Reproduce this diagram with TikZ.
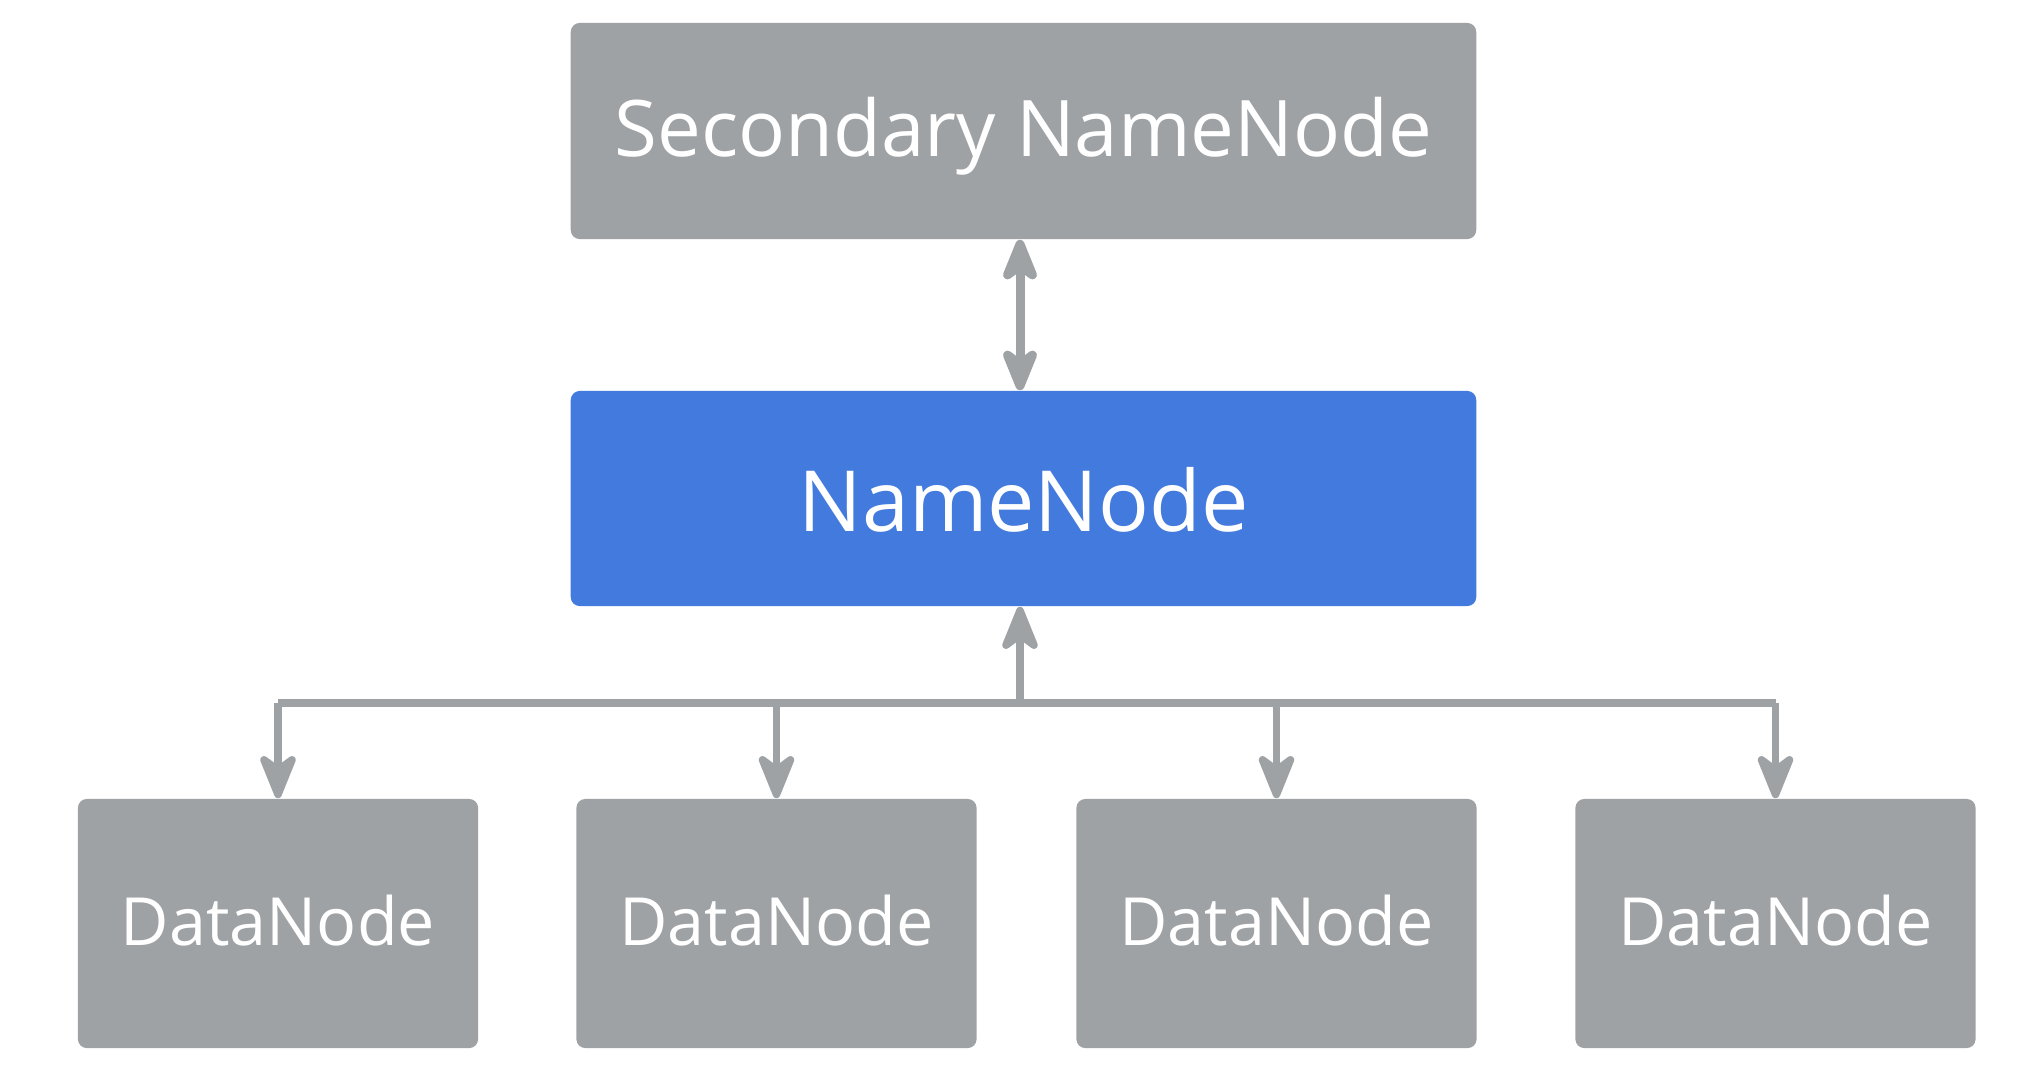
\documentclass[tikz,border=0pt]{standalone}
\usepackage{fontspec}
\setmainfont{Open Sans}
\usetikzlibrary{arrows.meta}
\definecolor{boxgray}{RGB}{158,162,165}
\definecolor{boxblue}{RGB}{66,122,221}
\tikzset{
  gbox/.style={fill=boxgray, rounded corners=0.09cm, text=white, inner sep=0pt},
  bbox/.style={fill=boxblue, rounded corners=0.09cm, text=white, inner sep=0pt},
  tip/.tip={Stealth[length=0.55cm, width=0.44cm, inset=0.16cm, round]},
  conn/.style={draw=boxgray, line width=0.075cm, line join=round, -tip},
  bconn/.style={draw=boxgray, line width=0.09cm, line join=round, tip-tip},
  busline/.style={draw=boxgray, line width=0.075cm, line join=round},
}
\begin{document}
\begin{tikzpicture}[x=0.01cm, y=-0.01cm]
\useasboundingbox (0,0) rectangle (2044,1084);
\node[gbox, minimum width=9.05cm, minimum height=2.16cm, font=\fontsize{22.2}{26}\selectfont, text height=15.85pt, text depth=1.14pt] (sec) at (1023.5,131) {Secondary NameNode};
\node[bbox, minimum width=9.05cm, minimum height=2.15cm, font=\fontsize{24}{29}\selectfont, text height=18.5pt, text depth=0pt] (nn) at (1023.5,498.5) {NameNode};
\foreach \i/\cx in {1/278, 2/776.5, 3/1276.5, 4/1775.5} {
  \node[gbox, minimum width=4.0cm, minimum height=2.49cm, font=\fontsize{18.9}{23}\selectfont, text height=13.5pt, text depth=1pt] (dn\i) at (\cx,923.5) {DataNode};
}
\draw[bconn] (sec.south -| 1020,0) -- (nn.north -| 1020,0);
\coordinate (bus) at (1020,703);
\draw[conn] (bus) -- (nn.south -| bus);
\draw[busline] (dn1.north |- bus) -- (dn4.north |- bus);
\foreach \i in {1,2,3,4} {
  \draw[conn] (dn\i.north |- bus) -- (dn\i.north);
}
\end{tikzpicture}
\end{document}
